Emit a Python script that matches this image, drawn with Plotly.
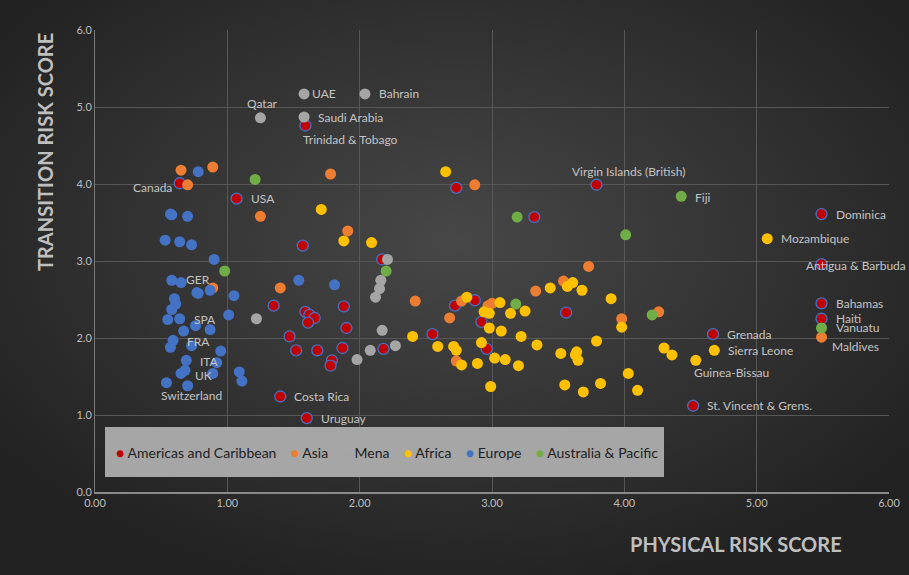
import base64
import plotly.graph_objects as go

# ---------------- data ----------------
series_names = ["Americas and Caribbean", "Asia", "Mena", "Africa", "Europe", "Australia & Pacific"]

americas_x = [0.64, 1.07, 1.59, 2.73, 1.57, 2.17, 1.35, 1.59, 1.62, 1.66, 1.61, 1.88, 1.90, 1.47, 1.52, 1.68,
              1.87, 1.79, 1.78, 2.18, 2.55, 2.72, 2.87, 1.40, 1.60, 3.32, 3.79, 2.92, 2.96, 3.56, 4.67, 4.52,
              5.49, 5.49, 5.49, 5.49]
americas_y = [4.01, 3.81, 4.76, 3.95, 3.20, 3.02, 2.42, 2.34, 2.30, 2.26, 2.20, 2.41, 2.13, 2.02, 1.84, 1.84,
              1.87, 1.71, 1.64, 1.86, 2.05, 2.42, 2.49, 1.24, 0.96, 3.57, 3.99, 2.21, 1.86, 2.33, 2.05, 1.12,
              3.61, 2.96, 2.45, 2.25]
americas_lbl = ["Canada", "USA", "Trinidad & Tobago", "", "", "", "", "", "", "", "", "", "", "", "", "",
                "", "", "", "", "", "", "", "Costa Rica", "Uruguay", "", "Virgin Islands (British)", "", "", "",
                "Grenada", "St. Vincent & Grens.", "Dominica", "Antigua & Barbuda", "Bahamas", "Haiti"]

asia_x = [0.65, 0.89, 0.70, 1.25, 0.89, 1.78, 1.91, 1.40, 2.42, 2.68, 2.77, 2.73, 2.87, 2.97, 3.00, 3.33,
          3.54, 3.73, 3.98, 4.26, 5.49]
asia_y = [4.18, 4.22, 3.99, 3.58, 2.65, 4.13, 3.39, 2.65, 2.48, 2.26, 2.48, 1.70, 3.99, 2.42, 2.45, 2.61,
          2.74, 2.93, 2.25, 2.34, 2.01]
asia_lbl = [""] * 20 + ["Maldives"]

mena_x = [1.58, 2.04, 1.25, 1.58, 1.22, 2.21, 2.16, 2.15, 2.12, 2.17, 1.98, 2.08, 2.27]
mena_y = [5.17, 5.17, 4.86, 4.87, 2.25, 3.02, 2.75, 2.64, 2.53, 2.10, 1.72, 1.84, 1.90]
mena_lbl = ["UAE", "Bahrain", "Qatar", "Saudi Arabia"] + [""] * 9

africa_x = [1.71, 2.65, 1.88, 2.09, 2.40, 2.81, 2.59, 2.71, 2.73, 2.77, 2.89, 3.06, 2.94, 2.98, 3.14, 3.25,
            3.44, 3.61, 3.57, 3.68, 3.90, 3.98, 2.98, 3.07, 3.22, 2.92, 3.34, 3.79, 3.02, 3.10, 3.20, 3.52,
            3.64, 3.63, 3.65, 4.03, 2.99, 3.55, 3.69, 3.82, 4.10, 4.30, 4.36, 4.54, 4.68, 5.08]
africa_y = [3.67, 4.16, 3.26, 3.24, 2.02, 2.53, 1.89, 1.89, 1.84, 1.65, 1.67, 2.46, 2.34, 2.32, 2.32, 2.35,
            2.65, 2.72, 2.67, 2.62, 2.51, 2.14, 2.13, 2.09, 2.02, 1.94, 1.91, 1.96, 1.74, 1.72, 1.64, 1.80,
            1.82, 1.78, 1.71, 1.54, 1.37, 1.39, 1.30, 1.41, 1.32, 1.87, 1.78, 1.71, 1.84, 3.29]
africa_lbl = [""] * 43 + ["Guinea-Bissau", "Sierra Leone", "Mozambique"]

europe_x = [0.78, 0.57, 0.58, 0.70, 0.53, 0.64, 0.73, 0.90, 0.58, 0.65, 0.77, 0.78, 0.87, 1.05, 0.60, 0.61,
            0.58, 0.55, 0.64, 1.01, 0.76, 0.87, 0.67, 0.59, 0.57, 0.73, 0.95, 0.69, 0.92, 0.68, 0.65, 0.89,
            1.09, 1.11, 0.54, 0.70, 1.54, 1.81]
europe_y = [4.16, 3.61, 3.60, 3.58, 3.27, 3.25, 3.21, 3.02, 2.75, 2.72, 2.59, 2.58, 2.62, 2.55, 2.51, 2.44,
            2.37, 2.24, 2.25, 2.30, 2.16, 2.11, 2.09, 1.97, 1.88, 1.90, 1.83, 1.71, 1.68, 1.58, 1.54, 1.54,
            1.56, 1.44, 1.42, 1.38, 2.75, 2.69]
europe_lbl = ["", "", "", "", "", "", "", "", "GER", "", "", "", "", "", "", "",
              "", "", "SPA", "", "", "", "", "FRA", "", "", "", "ITA", "", "", "UK", "",
              "", "", "", "Switzerland", "", ""]

austr_x = [1.21, 0.98, 2.20, 3.19, 3.18, 4.01, 4.43, 4.21, 5.49]
austr_y = [4.06, 2.87, 2.87, 3.57, 2.44, 3.34, 3.84, 2.30, 2.13]
austr_lbl = [""] * 6 + ["Fiji", "", "Vanuatu"]

x_ticks = [0, 1, 2, 3, 4, 5, 6]
y_ticks = [0, 1, 2, 3, 4, 5, 6]
x_title = "PHYSICAL RISK SCORE"
y_title = "TRANSITION RISK SCORE"

# ---------------- styling ----------------
W, H = 909, 575
ML, MR, MT, MB = 95, 20, 30, 83
PW, PH = W - ML - MR, H - MT - MB

colors = ["#C00000", "#ED7D31", "#A5A5A5", "#FFC000", "#4472C4", "#70AD47"]
FONT = "Lato, 'Open Sans', sans-serif"
LABEL_COLOR = "#c4c4c4"


def px_x(p):
    return (p - ML) / PW


def px_y(p):
    return (H - MB - p) / PH


# label placement: (xanchor, xshift px, yshift px)
label_style = {
    "Canada": ("right", -6, -4),
    "USA": ("left", 12, 0),
    "Trinidad & Tobago": ("left", -4, -14),
    "Costa Rica": ("left", 12, 0),
    "Uruguay": ("left", 12, 0),
    "Virgin Islands (British)": ("center", 32, 13),
    "Grenada": ("left", 12, 0),
    "St. Vincent & Grens.": ("left", 12, 0),
    "Dominica": ("left", 12, 0),
    "Antigua & Barbuda": ("left", -18, -1),
    "Bahamas": ("left", 12, 0),
    "Haiti": ("left", 12, 0),
    "Maldives": ("left", 8, -9),
    "UAE": ("left", 6, 0),
    "Bahrain": ("left", 12, 0),
    "Qatar": ("center", 2, 14),
    "Saudi Arabia": ("left", 12, 0),
    "Guinea-Bissau": ("left", -4, -12),
    "Sierra Leone": ("left", 12, 0),
    "Mozambique": ("left", 12, 0),
    "GER": ("left", 12, 1),
    "SPA": ("left", 12, -1),
    "FRA": ("left", 12, -1),
    "ITA": ("left", 12, -1),
    "UK": ("left", 12, -2),
    "Switzerland": ("center", 4, -10),
    "Fiji": ("left", 12, -1),
    "Vanuatu": ("left", 12, 0),
}

all_series = [
    (americas_x, americas_y, americas_lbl),
    (asia_x, asia_y, asia_lbl),
    (mena_x, mena_y, mena_lbl),
    (africa_x, africa_y, africa_lbl),
    (europe_x, europe_y, europe_lbl),
    (austr_x, austr_y, austr_lbl),
]

fig = go.Figure()

for i, (xs, ys, lbls) in enumerate(all_series):
    line = dict(color="#4472C4", width=1.3) if i == 0 else dict(width=0)
    fig.add_trace(go.Scatter(
        x=xs, y=ys, mode="markers", name=series_names[i], showlegend=False,
        marker=dict(size=11, color=colors[i], line=line),
        hoverinfo="x+y+name",
    ))

annotations = []
for xs, ys, lbls in all_series:
    for xv, yv, lb in zip(xs, ys, lbls):
        if not lb:
            continue
        xa, xsft, ysft = label_style.get(lb, ("left", 12, 0))
        annotations.append(dict(
            x=xv, y=yv, xref="x", yref="y", text=lb, showarrow=False,
            xanchor=xa, yanchor="middle", xshift=xsft, yshift=ysft,
            font=dict(family=FONT, size=12, color=LABEL_COLOR),
        ))

# legend built as one text line over a gray box
legend_parts = []
for name, col in zip(series_names, colors):
    legend_parts.append(f"<span style='color:{col}'>●</span>&nbsp;{name}")
legend_text = "&nbsp;&nbsp;&nbsp;&nbsp;".join(legend_parts)
annotations.append(dict(
    x=px_x(116), y=px_y(452), xref="paper", yref="paper",
    xanchor="left", yanchor="middle", text=legend_text, showarrow=False,
    borderpad=0, borderwidth=0,
    font=dict(family=FONT, size=14, color="#1e1e1e"),
))
shapes = [dict(
    type="rect", xref="paper", yref="paper", layer="above",
    x0=px_x(105), x1=px_x(664), y0=px_y(477), y1=px_y(427),
    fillcolor="#A6A6A6", line=dict(width=0),
)]

# axis titles
annotations.append(dict(
    x=px_x(45), y=px_y(152), xref="paper", yref="paper", text=y_title,
    textangle=-90, showarrow=False, xanchor="center", yanchor="middle",
    font=dict(family=FONT, size=20, color="#bfbfbf", weight="bold"),
))
annotations.append(dict(
    x=px_x(736), y=px_y(544), xref="paper", yref="paper", text=x_title,
    showarrow=False, xanchor="center", yanchor="middle",
    font=dict(family=FONT, size=20, color="#bfbfbf", weight="bold"),
))

svg = (f'<svg xmlns="http://www.w3.org/2000/svg" width="{W}" height="{H}" viewBox="0 0 {W} {H}">'
       '<defs><radialGradient id="g" cx="50%" cy="42%" r="62%">'
       '<stop offset="0" stop-color="#474747"/><stop offset="1" stop-color="#222222"/>'
       '</radialGradient></defs><rect width="100%" height="100%" fill="url(#g)"/></svg>')
bg_src = "data:image/svg+xml;base64," + base64.b64encode(svg.encode()).decode()

fig.update_layout(
    width=W, height=H,
    margin=dict(l=ML, r=MR, t=MT, b=MB, autoexpand=False),
    paper_bgcolor="#2c2c2c",
    plot_bgcolor="rgba(0,0,0,0)",
    font=dict(family=FONT, color="#bfbfbf"),
    showlegend=False,
    annotations=annotations,
    shapes=shapes,
    images=[dict(
        source=bg_src, xref="paper", yref="paper",
        x=-ML / PW, y=1 + MT / PH, sizex=W / PW, sizey=H / PH,
        xanchor="left", yanchor="top", sizing="stretch", layer="below",
    )],
    xaxis=dict(
        range=[0, 6], tickvals=x_ticks, tickformat=".2f", automargin=False,
        showgrid=True, gridcolor="#575757", gridwidth=1, zeroline=False,
        showline=True, linecolor="#8a8a8a", linewidth=1.5,
        tickfont=dict(family=FONT, size=11, color="#bdbdbd"), ticks="",
    ),
    yaxis=dict(
        range=[0, 6], tickvals=y_ticks, tickformat=".1f", automargin=False,
        showgrid=True, gridcolor="#575757", gridwidth=1, zeroline=False,
        showline=True, linecolor="#7a7a7a", linewidth=1,
        tickfont=dict(family=FONT, size=11, color="#bdbdbd"), ticks="",
    ),
)

fig.write_html("out.html", config={"displayModeBar": False},
               post_script="document.body.style.margin='0';document.body.style.overflow='hidden';")
